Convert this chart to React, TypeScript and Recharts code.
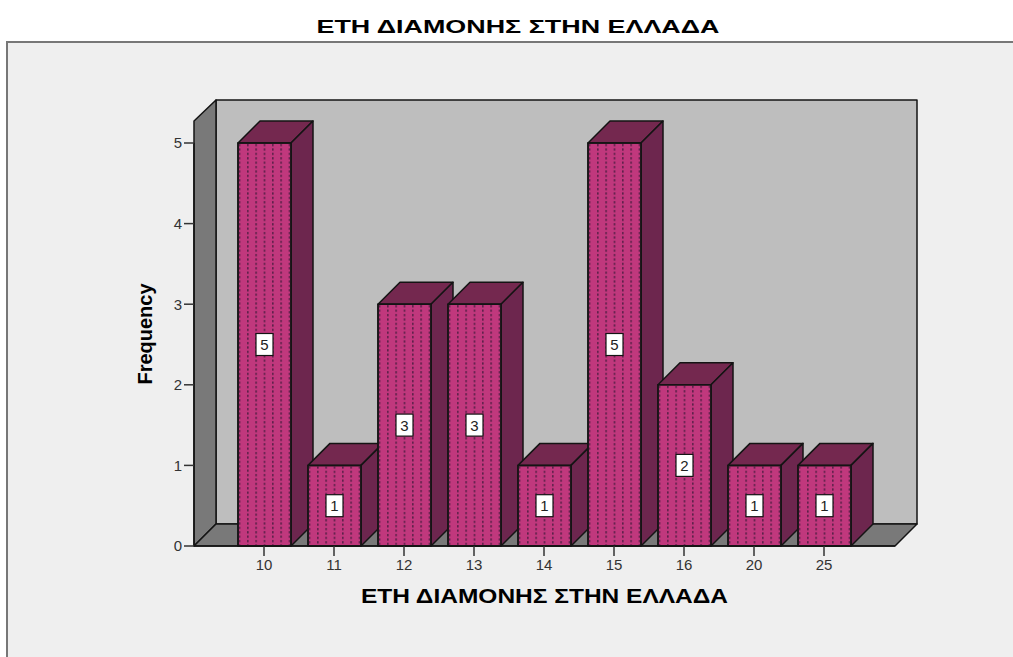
import { BarChart, Bar, XAxis, YAxis, Label, LabelList, usePlotArea } from 'recharts';

const years = ['10', '11', '12', '13', '14', '15', '16', '20', '25'];
const frequency = [5, 1, 3, 3, 1, 5, 2, 1, 1];
const yTicks = [0, 1, 2, 3, 4, 5];

const TITLE = 'ΕΤΗ ΔΙΑΜΟΝΗΣ ΣΤΗΝ ΕΛΛΑΔΑ';
const FONT = '"Liberation Sans", Arial, sans-serif';
const DEPTH = 22;
const OUTLINE = '#141414';

const chartData = years.map((year, i) => ({ year, count: frequency[i] }));

// back wall, left wall and floor of the 3D box
function Walls() {
  const plot = usePlotArea();
  if (!plot) return null;
  const left = plot.x;
  const right = plot.x + plot.width;
  const bottom = plot.y + plot.height;
  const top = plot.y - DEPTH;
  return (
    <g stroke={OUTLINE} strokeWidth={1.5} strokeLinejoin="round">
      <rect x={left + DEPTH} y={top - DEPTH + 1} width={plot.width} height={bottom - top - 1} fill="#bebebe" />
      <polygon
        points={`${left},${top} ${left + DEPTH},${top - DEPTH + 1} ${left + DEPTH},${bottom - DEPTH} ${left},${bottom}`}
        fill="#797979"
      />
      <polygon
        points={`${left},${bottom} ${left + DEPTH},${bottom - DEPTH} ${right + DEPTH},${bottom - DEPTH} ${right},${bottom}`}
        fill="#797979"
      />
    </g>
  );
}

function Bar3D(props: any) {
  const { x, y, width, height, index } = props;
  const id = `dots-${index}`;
  const d = DEPTH;
  return (
    <g stroke={OUTLINE} strokeWidth={1.5} strokeLinejoin="round">
      <defs>
        <pattern id={id} x={x + 9} y={y} width={8.33} height={4.4} patternUnits="userSpaceOnUse">
          <rect x={0} y={1} width={1.6} height={2.2} fill="#5a2048" stroke="none" />
        </pattern>
      </defs>
      <polygon
        points={`${x},${y} ${x + d},${y - d} ${x + width + d},${y - d} ${x + width},${y}`}
        fill="#74284f"
      />
      <polygon
        points={`${x + width},${y} ${x + width + d},${y - d} ${x + width + d},${y + height - d} ${x + width},${y + height}`}
        fill="#6d264e"
      />
      <rect x={x} y={y} width={width} height={height} fill="#c0387d" />
      <rect x={x} y={y} width={width} height={height} fill={`url(#${id})`} />
    </g>
  );
}

function CountLabel(props: any) {
  const { x, y, width, height, value } = props;
  const cx = x + width / 2;
  const cy = y + height / 2;
  return (
    <g>
      <rect x={cx - 8.5} y={cy - 11} width={17} height={22} fill="#ffffff" stroke={OUTLINE} strokeWidth={1.2} />
      <text x={cx} y={cy + 5.5} textAnchor="middle" fontFamily={FONT} fontSize={15} fill="#222">
        {value}
      </text>
    </g>
  );
}

function XTitle() {
  return (
    <text
      x={544.5}
      y={603}
      textAnchor="middle"
      fontFamily={FONT}
      fontSize={20}
      fontWeight={700}
      fill="#000"
      textLength={367}
      lengthAdjust="spacingAndGlyphs"
    >
      {TITLE}
    </text>
  );
}

function YTitle() {
  return (
    <text
      transform="translate(152 334) rotate(-90)"
      textAnchor="middle"
      fontFamily={FONT}
      fontSize={21}
      fontWeight={700}
      fill="#000"
      textLength={101}
      lengthAdjust="spacingAndGlyphs"
    >
      Frequency
    </text>
  );
}

export default function App() {
  return (
    <div style={{ position: 'absolute', left: 0, top: 0, width: 1013, height: 657, background: '#fff', overflow: 'hidden' }}>
      <div
        style={{
          position: 'absolute',
          left: 6,
          top: 41,
          width: 1007,
          height: 616,
          background: '#efefef',
          borderTop: '2px solid #777',
          borderLeft: '2px solid #777',
          boxSizing: 'border-box',
        }}
      />
      <BarChart
        width={1013}
        height={657}
        data={chartData}
        margin={{ top: 143, right: 118, bottom: 0, left: 0 }}
        style={{ position: 'absolute', left: 0, top: 0 }}
      >
        <Walls />
        <text
          x={518}
          y={33}
          textAnchor="middle"
          fontFamily={FONT}
          fontSize={19}
          fontWeight={600}
          fill="#000"
          textLength={403}
          lengthAdjust="spacingAndGlyphs"
        >
          {TITLE}
        </text>
        <XAxis
          dataKey="year"
          height={111}
          padding={{ left: 35, right: 36 }}
          tickSize={10}
          tickMargin={3}
          tick={{ fontFamily: FONT, fontSize: 15, fill: '#333' }}
          tickLine={{ stroke: '#333', strokeWidth: 1.5 }}
          axisLine={{ stroke: OUTLINE, strokeWidth: 1.5 }}
        >
          <Label content={XTitle} />
        </XAxis>
        <YAxis
          width={194}
          domain={[0, 5]}
          ticks={yTicks}
          tickSize={10}
          tickMargin={2}
          tick={{ fontFamily: FONT, fontSize: 15, fill: '#333' }}
          tickLine={{ stroke: '#333', strokeWidth: 1.5 }}
          axisLine={{ stroke: OUTLINE, strokeWidth: 1.5 }}
        >
          <Label content={YTitle} />
        </YAxis>
        <Bar dataKey="count" barSize={53} shape={Bar3D} isAnimationActive={false}>
          <LabelList dataKey="count" content={CountLabel} />
        </Bar>
      </BarChart>
    </div>
  );
}
